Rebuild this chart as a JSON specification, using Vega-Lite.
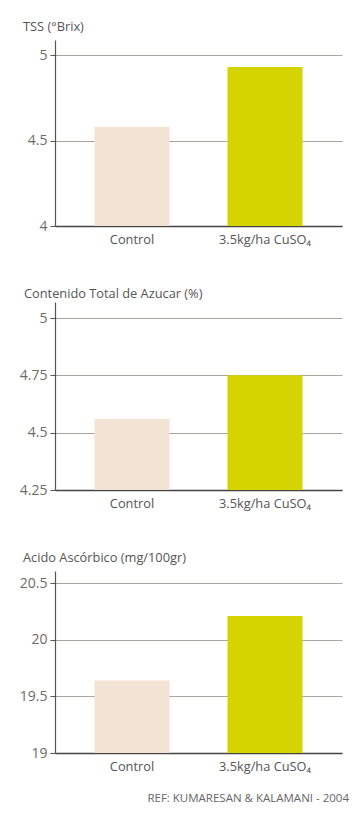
{
  "$schema": "https://vega.github.io/schema/vega-lite/v6.json",
  "background": "white",
  "padding": {"left": 19, "top": 21, "right": 8, "bottom": 6},
  "spacing": 42,
  "config": {
    "font": "Open Sans",
    "view": {"stroke": null},
    "title": {"anchor": "start", "frame": "group", "fontSize": 12.8, "fontWeight": "normal", "color": "#555555"},
    "axisY": {"grid": true, "gridColor": "#aaa59b", "gridWidth": 1, "domainColor": "#555555", "domainWidth": 1.2, "tickColor": "#555555", "tickSize": 5, "labelFontSize": 14, "labelColor": "#6f6a64", "labelPadding": 3, "title": null, "labelFont": "Open Sans"},
    "axisX": {"domainColor": "#444444", "domainWidth": 1.5, "ticks": false, "labelAngle": 0, "labelFontSize": 12.8, "labelColor": "#555555", "labelPadding": 7, "title": null, "labelFont": "Open Sans"},
    "bar": {"stroke": null}
  },
  "title": {"text": "REF: KUMARESAN & KALAMANI - 2004", "orient": "bottom", "anchor": "end", "frame": "bounds", "fontSize": 11.5, "color": "#666666", "offset": 20, "dx": 7},
  "datasets": {
    "tss": [{"trat": "Control", "valor": 4.58}, {"trat": "3.5kg/ha CuSO₄", "valor": 4.93}],
    "azucar": [{"trat": "Control", "valor": 4.56}, {"trat": "3.5kg/ha CuSO₄", "valor": 4.75}],
    "ascorbico": [{"trat": "Control", "valor": 19.64}, {"trat": "3.5kg/ha CuSO₄", "valor": 20.21}]
  },
  "vconcat": [
    {
      "title": {"text": "TSS (°Brix)", "dx": -32, "offset": 6},
      "width": 287, "height": 186,
      "data": {"name": "tss"},
      "mark": {"type": "bar"},
      "encoding": {
        "x": {"field": "trat", "type": "nominal", "sort": ["Control", "3.5kg/ha CuSO₄"], "scale": {"paddingInner": 0.436, "paddingOuter": 0.297}},
        "y": {"field": "valor", "type": "quantitative", "scale": {"domain": [4, 5.088], "nice": false, "zero": false}, "axis": {"values": [4, 4.5, 5], "format": ".2~f"}},
        "y2": {"datum": 4},
        "color": {"field": "trat", "type": "nominal", "scale": {"domain": ["Control", "3.5kg/ha CuSO₄"], "range": ["#f2e3d5", "#d6d400"]}, "legend": null}
      }
    },
    {
      "title": {"text": "Contenido Total de Azucar (%)", "dx": -31, "offset": 1},
      "width": 287, "height": 188,
      "data": {"name": "azucar"},
      "mark": {"type": "bar"},
      "encoding": {
        "x": {"field": "trat", "type": "nominal", "sort": ["Control", "3.5kg/ha CuSO₄"], "scale": {"paddingInner": 0.436, "paddingOuter": 0.297}},
        "y": {"field": "valor", "type": "quantitative", "scale": {"domain": [4.25, 5.07], "nice": false, "zero": false}, "axis": {"values": [4.25, 4.5, 4.75, 5], "format": ".2~f"}},
        "y2": {"datum": 4.25},
        "color": {"field": "trat", "type": "nominal", "scale": {"domain": ["Control", "3.5kg/ha CuSO₄"], "range": ["#f2e3d5", "#d6d400"]}, "legend": null}
      }
    },
    {
      "title": {"text": "Acido Ascórbico (mg/100gr)", "dx": -32, "offset": 6},
      "width": 287, "height": 182,
      "data": {"name": "ascorbico"},
      "mark": {"type": "bar"},
      "encoding": {
        "x": {"field": "trat", "type": "nominal", "sort": ["Control", "3.5kg/ha CuSO₄"], "scale": {"paddingInner": 0.436, "paddingOuter": 0.297}},
        "y": {"field": "valor", "type": "quantitative", "scale": {"domain": [19, 20.606], "nice": false, "zero": false}, "axis": {"values": [19, 19.5, 20, 20.5], "format": ".2~f"}},
        "y2": {"datum": 19},
        "color": {"field": "trat", "type": "nominal", "scale": {"domain": ["Control", "3.5kg/ha CuSO₄"], "range": ["#f2e3d5", "#d6d400"]}, "legend": null}
      }
    }
  ]
}
